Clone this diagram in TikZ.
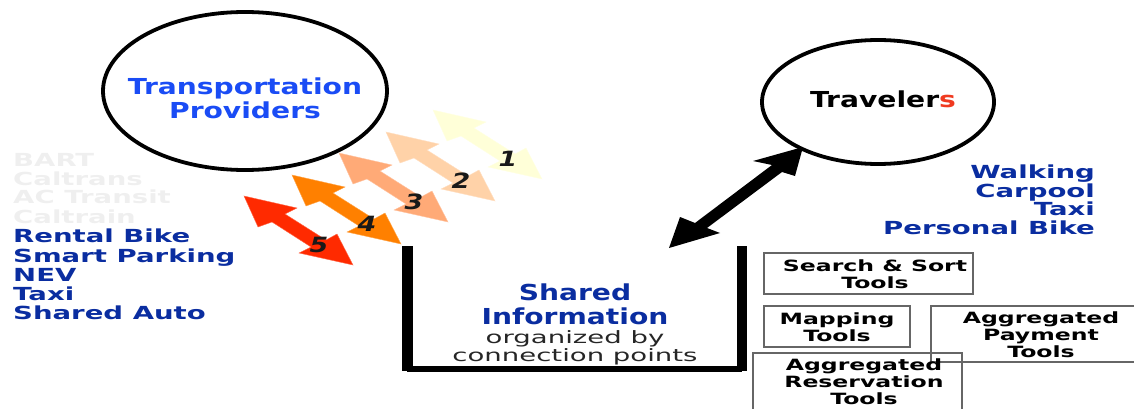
\documentclass[tikz,border=0pt]{standalone}
\usepackage{fontspec}
\usetikzlibrary{shapes.geometric}
\setmainfont{DejaVu Sans}
\newfontfamily\bigfont[FakeStretch=1.28]{DejaVu Sans}
\newfontfamily\listfont[FakeStretch=1.53]{DejaVu Sans}
\newfontfamily\plainfont[FakeStretch=1.62]{DejaVu Sans}
\newfontfamily\toolfont[FakeStretch=1.52]{DejaVu Sans}
\definecolor{provblue}{HTML}{1A4CF5}
\definecolor{listblue}{HTML}{0A2DA0}
\definecolor{hiddentext}{HTML}{EFEFEF}
\definecolor{boxgray}{HTML}{666666}
\definecolor{accentred}{HTML}{F03A20}
\definecolor{aone}{HTML}{FFFFD8}
\definecolor{atwo}{HTML}{FFD2A8}
\definecolor{athree}{HTML}{FFAA77}
\definecolor{afour}{HTML}{FF8000}
\definecolor{afive}{HTML}{FF2A00}
\tikzset{
  x=1pt,y=-1pt,
  big/.style={inner sep=0pt,text height=16pt,text depth=0pt,font=\bigfont\bfseries\fontsize{22}{22}\selectfont},
  lst/.style={inner sep=0pt,text height=13pt,text depth=0pt,font=\listfont\bfseries\fontsize{18}{18}\selectfont},
  tool/.style={inner sep=0pt,align=center,font=\toolfont\bfseries\fontsize{15.5}{17}\selectfont},
  plain/.style={inner sep=0pt,text height=12.4pt,text depth=0pt,font=\plainfont\fontsize{17}{17}\selectfont,text=black!85},
  toolbox/.style={draw=boxgray,line width=1.6pt,inner sep=0pt},
  ring/.style={ellipse,draw=black,line width=3.8pt,fill=white,inner sep=0pt},
  num/.style={inner sep=0pt,font=\bigfont\bfseries\itshape\fontsize{21}{21}\selectfont,text=black!90},
  wall/.style={fill=black,inner sep=0pt},
}
\newcommand{\twohead}[5]{%
  \begin{scope}[shift={(#1,#2)}]
    \fill[#3,draw=#3!70!white,line width=0.4pt]
      (244,196) -- (297,208) -- (285,214) -- (326,240) -- (337,234) -- (353,265)
      -- (299,253) -- (311,247) -- (272,222) -- (258,227) -- cycle;
    \node[num] (#5) at (319,245) {#4};
  \end{scope}}
\begin{document}
\begin{tikzpicture}
\useasboundingbox (0,0) rectangle (1134,409);
\begin{scope}
\clip (0,0) rectangle (1134,409);

% circles
\node[ring,minimum width=284pt,minimum height=158pt] (providers) at (245,91) {};
\node[ring,minimum width=232pt,minimum height=124pt] (travelers) at (878,102) {};
\node[big,text=provblue] (t1) at (245,87) {Transportation};
\node[big,text=provblue] (t2) at (245,110) {Providers};
\node[big] (t3) at (883,99) {Traveler\textcolor{accentred}{s}};

% coloured arrows
\twohead{189}{-86}{aone}{1}{n1}
\twohead{142}{-64}{atwo}{2}{n2}
\twohead{95}{-43}{athree}{3}{n3}
\twohead{48}{-21}{afour}{4}{n4}
\twohead{0}{0}{afive}{5}{n5}

% left list
\foreach \nm/\txt/\yy/\col in {a/BART/160/hiddentext,b/Caltrans/179/hiddentext,c/AC Transit/197/hiddentext,d/Caltrain/217/hiddentext,
  e/Rental Bike/236/listblue,f/Smart Parking/256/listblue,g/NEV/275/listblue,h/Taxi/294/listblue,i/Shared Auto/313/listblue}
  \node[lst,anchor=west,text=\col] (l\nm) at (13,\yy) {\txt};

% right list
\foreach \nm/\txt/\yy in {a/Walking/172,b/Carpool/191,c/Taxi/209,d/Personal Bike/228}
  \node[lst,anchor=east,text=listblue] (r\nm) at (1095,\yy) {\txt};

% container
\node[wall,minimum width=11pt,minimum height=125pt,anchor=north west] (wallL) at (402,246) {};
\node[wall,minimum width=10pt,minimum height=125pt,anchor=north west] (wallR) at (737,246) {};
\node[wall,minimum width=335pt,minimum height=6pt,anchor=north west] (floor) at (407,366) {};
\node[big,text=listblue] (s1) at (575,292) {Shared};
\node[big,text=listblue] (s2) at (575,316) {Information};
\node[plain] (s3) at (575,337) {organized by};
\node[plain] (s4) at (575,355) {connection points};

% big double arrow
\fill[black] (669,248) -- (680,217) -- (695,223) -- (772,165) -- (753,161) -- (803,147)
  -- (795,176) -- (782,172) -- (707,228) -- (720,233) -- cycle;

% tool boxes
\node[toolbox,minimum width=209pt,minimum height=41pt,anchor=north west] (b1) at (763,252) {};
\node[toolbox,minimum width=146pt,minimum height=41pt,anchor=north west] (b2) at (763,305) {};
\node[toolbox,minimum width=230pt,minimum height=56pt,anchor=north west] (b3) at (930,305) {};
\node[toolbox,minimum width=209pt,minimum height=70pt,anchor=north west] (b4) at (752,352) {};
\node[tool] (x1) at (875,274) {Search \& Sort\\Tools};
\node[tool] (x2) at (837,327) {Mapping\\Tools};
\node[tool] (x3) at (1041,335) {Aggregated\\Payment\\Tools};
\node[tool] (x4) at (864,382) {Aggregated\\Reservation\\Tools};
\end{scope}
\end{tikzpicture}
\end{document}
